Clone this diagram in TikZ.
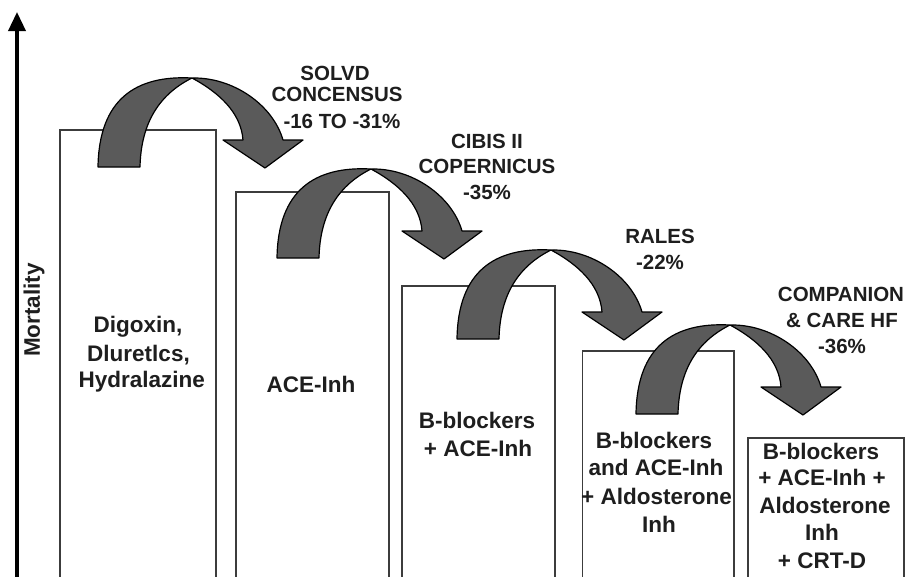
\documentclass[tikz,border=0pt]{standalone}
\usepackage{fontspec}
\setmainfont{Liberation Sans}
\usetikzlibrary{arrows.meta}
\definecolor{arrowgray}{HTML}{5A5A5A}
\definecolor{boxline}{HTML}{3C3C3C}
\definecolor{txt}{HTML}{1E1E1E}
\begin{document}
\begin{tikzpicture}[x=1pt,y=-1pt,
  boxstyle/.style={draw=boxline, line width=1.8pt, fill=white, anchor=north west, inner sep=0pt},
  curvearrow/.style={fill=arrowgray, draw=black, line width=1.2pt, line join=round},
  lbl/.style={anchor=base, inner sep=0pt, font=\fontsize{20.5}{24}\selectfont\bfseries, text=txt},
  btxt/.style={anchor=base, inner sep=0pt, font=\fontsize{22.5}{27}\selectfont\bfseries, text=txt},
  pics/bendarrow/.style={code={
    \path[curvearrow] (0,0) .. controls (1,-68) and (38,-92) .. (94,-89)
      .. controls (135,-90) and (175,-62) .. (185,-27)
      -- (205,-27) -- (167,1) -- (125,-27) -- (145,-27)
      .. controls (143,-55) and (120,-75) .. (94,-89)
      .. controls (62,-73) and (43,-45) .. (42,0) -- cycle;
  }}]
\useasboundingbox (0,0) rectangle (910,576);
\clip (0,0) rectangle (910,576);
\fill[white] (0,0) rectangle (910,576);

% axis
\coordinate (ax0) at (17,590);
\coordinate (ax1) at (17,12);
\draw[line width=3.5pt, -{Triangle[length=19pt,width=17pt]}] (ax0) -- (ax1);
\node[btxt, anchor=center, rotate=90] (ylab) at (34,310) {Mortality};

% boxes
\node[boxstyle, minimum width=156pt, minimum height=470pt] (box1) at (59,129) {};
\node[boxstyle, minimum width=153pt, minimum height=420pt] (box2) at (235,191) {};
\node[boxstyle, minimum width=153pt, minimum height=320pt] (box3) at (401,285) {};
\node[boxstyle, minimum width=151.5pt, minimum height=260pt] (box4) at (581.5,350) {};
\node[boxstyle, minimum width=156pt, minimum height=170pt] (box5) at (747,437) {};

% curved arrows
\coordinate (a1) at (98,167);
\coordinate (a2) at (277,258);
\coordinate (a3) at (457,339);
\coordinate (a4) at (636,414);
\pic at (a1) {bendarrow};
\pic at (a2) {bendarrow};
\pic at (a3) {bendarrow};
\pic at (a4) {bendarrow};

% arrow labels
\node[lbl] (s1) at (335,80) {SOLVD};
\node[lbl] (s2) at (337,101.7) {CONCENSUS};
\node[lbl] (s3) at (342,128.3) {-16 TO -31\%};
\node[lbl] (c1) at (487,148.3) {CIBIS II};
\node[lbl] (c2) at (487,173.3) {COPERNICUS};
\node[lbl] (c3) at (487,199) {-35\%};
\node[lbl] (r1) at (660,243.6) {RALES};
\node[lbl] (r2) at (660,269) {-22\%};
\node[lbl] (p1) at (841,301) {COMPANION};
\node[lbl] (p2) at (842,327) {\& CARE HF};
\node[lbl] (p3) at (842,353) {-36\%};

% box texts
\node[btxt] (t11) at (138,332.7) {Digoxin,};
\node[btxt] (t12) at (138.5,361.7) {Dluretlcs,};
\node[btxt] (t13) at (141.7,387.7) {Hydralazine};
\node[btxt] (t21) at (311,392) {ACE-Inh};
\node[btxt] (t31) at (477,428) {B-blockers};
\node[btxt] (t32) at (478,456) {+ ACE-Inh};
\node[btxt] (t41) at (654,448) {B-blockers};
\node[btxt] (t42) at (656,475) {and ACE-Inh};
\node[btxt] (t43) at (656.5,504) {+ Aldosterone};
\node[btxt] (t44) at (659,532) {Inh};
\node[btxt] (t51) at (821,459) {B-blockers};
\node[btxt] (t52) at (822,485.5) {+ ACE-Inh +};
\node[btxt] (t53) at (825,513) {Aldosterone};
\node[btxt] (t54) at (822,540) {Inh};
\node[btxt] (t55) at (822,568) {+ CRT-D};
\end{tikzpicture}
\end{document}
